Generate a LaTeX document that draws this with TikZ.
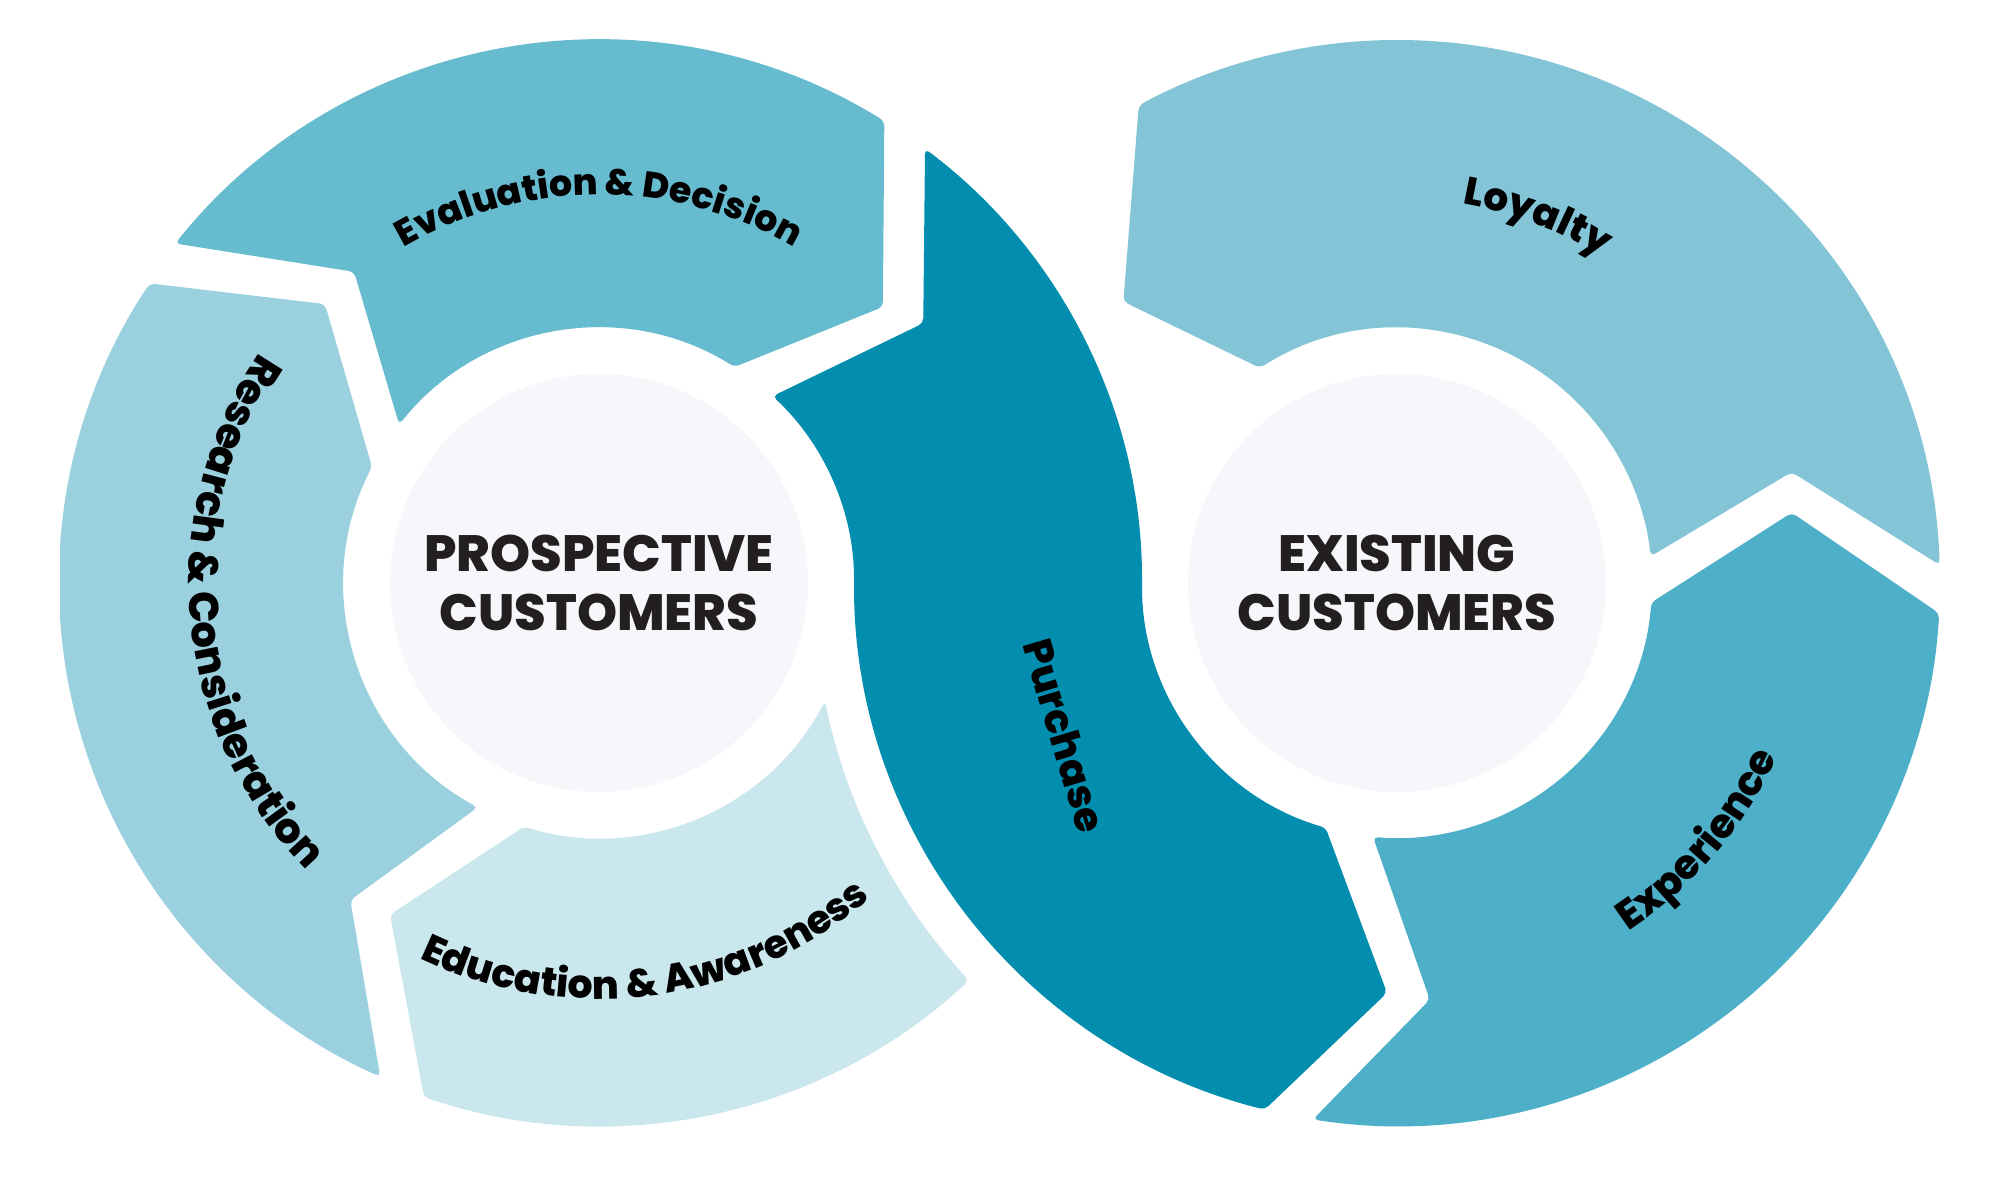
\documentclass[tikz,border=0pt]{standalone}
\usepackage{fontspec}
\IfFontExistsTF{Poppins ExtraBold}
  {\setmainfont{Poppins}[BoldFont={Poppins ExtraBold}]}
  {\setmainfont{Poppins}}
\usetikzlibrary{decorations.text}
\definecolor{evalblue}{HTML}{67BBCF}
\definecolor{researchblue}{HTML}{9BD1DF}
\definecolor{educationblue}{HTML}{CBE7EE}
\definecolor{purchaseblue}{HTML}{038DAE}
\definecolor{loyaltyblue}{HTML}{83C5D7}
\definecolor{experienceblue}{HTML}{4EAFC8}
\definecolor{hubgray}{HTML}{F5F7FA}
\definecolor{ink}{HTML}{231F20}
\newcommand{\steptext}[1]{\fontsize{#1}{#1}\selectfont\bfseries\color{black}}

\begin{document}
\begin{tikzpicture}[x=1pt,y=1pt,
    piece/.style={rounded corners=5pt},
    hub/.style={circle,fill=hubgray,minimum size=418pt,inner sep=0pt,
      align=center,text=ink,font=\fontsize{51}{59}\selectfont\bfseries},
    steplabel/.style 2 args={decorate,decoration={text along path,
      text align=center,text={|\steptext{#1}|#2}}}
  ]
  \fill[white] (0,0) rectangle (2000,1184);
  \useasboundingbox (0,0) rectangle (2000,1184);
  \coordinate (cl) at (599,601);
  \coordinate (cr) at (1397,601);

  % left loop: prospective customers
  \begin{scope}[shift={(cl)}]
    \fill[piece,evalblue] (141.3:543) arc[start angle=141.3,end angle=58.3,radius=543]
      -- (44.2:396) -- (57.9:255) arc[start angle=57.9,end angle=141.6,radius=255]
      -- (128.2:396) -- cycle;
    \begin{scope}
      \clip (-539,-600) rectangle (0,600);
      \fill[piece,researchblue] (146.3:540) arc[start angle=146.3,end angle=246.1,radius=540]
        -- (231.9:403) -- (241.6:255) arc[start angle=241.6,end angle=152.9,radius=255]
        -- (134.5:391) -- cycle;
    \end{scope}
    \fill[piece,educationblue] (251.2:543) arc[start angle=251.2,end angle=312.95,radius=543]
      arc[start angle=222.88,end angle=191.66,radius=584]
      arc[start angle=332.4,end angle=252.9,radius=255]
      -- (237.8:392) -- cycle;
    % purchase runs from the left loop into the right one
    \fill[piece,purchaseblue] (47.1:255) arc[start angle=47.1,end angle=0,radius=255]
      arc[start angle=180,end angle=255.9,radius=543]
      -- ([shift={(798,0)}]268.6:410) -- ([shift={(798,0)}]253.75:255)
      arc[start angle=253.75,end angle=180,radius=255]
      arc[start angle=0,end angle=53.1,radius=543]
      -- (38.7:415.5) -- cycle;
  \end{scope}

  % right loop: existing customers
  \begin{scope}[shift={(cr)}]
    \fill[piece,loyaltyblue] (1.9:543) arc[start angle=1.9,end angle=118.4,radius=543]
      -- (134.2:392.5) -- (122.5:255) arc[start angle=122.5,end angle=6,radius=255]
      -- (15.7:410) -- cycle;
    \fill[piece,experienceblue] (261.1:543) arc[start angle=261.1,end angle=356.8,radius=543]
      -- (10.1:401) -- (355.6:255) arc[start angle=355.6,end angle=264.6,radius=255]
      -- (274.5:418) -- cycle;
  \end{scope}

  \node[hub] (prospective) at (cl) {PROSPECTIVE\\CUSTOMERS};
  \node[hub] (existing) at (cr) {EXISTING\\CUSTOMERS};

  % step labels
  \path[steplabel={36.3}{Evaluation {\&} Decision}]
    ([shift={(cl)}]150:388) arc[start angle=150,end angle=30,radius=388];
  \path[steplabel={41.7}{Research {\&} Consideration}]
    ([shift={(cl)}]125.2:410) arc[start angle=125.2,end angle=245.2,radius=410];
  \path[steplabel={39.3}{Education {\&} Awareness}]
    ([shift={(cl)}]217.6:416) arc[start angle=217.6,end angle=337.6,radius=416];
  \path[steplabel={40.5}{Purchase}]
    (1007.9,587.5) -- (1093.3,299.9);
  \path[steplabel={39}{Loyalty}]
    ([shift={(cr)}]129:385) arc[start angle=129,end angle=9,radius=385];
  \path[steplabel={40.5}{Experience}]
    ([shift={(cr)}]269.5:418) arc[start angle=269.5,end angle=369.5,radius=418];
\end{tikzpicture}
\end{document}
